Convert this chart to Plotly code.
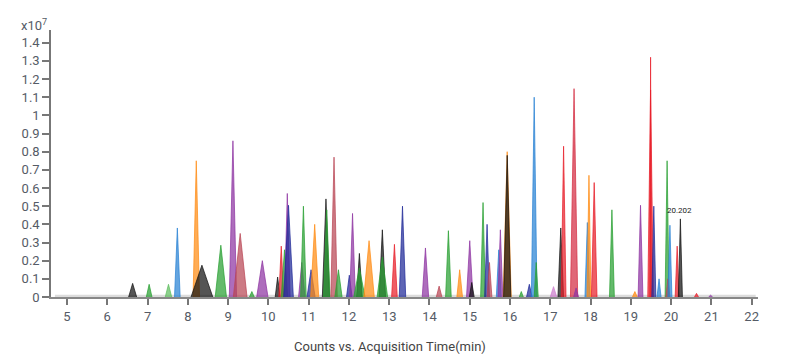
import plotly.graph_objects as go

# Peak table (heights in units of 10^7 counts)
peak_rt = [6.63, 7.04, 7.52, 7.74, 8.21, 8.35, 8.82, 9.12, 9.30, 9.59,
           9.85, 10.23, 10.32, 10.40, 10.47, 10.50, 10.83, 10.87, 11.06, 11.15,
           11.43, 11.45, 11.63, 11.74, 12.01, 12.09, 12.26, 12.26, 12.50, 12.83,
           12.83, 13.13, 13.33, 13.90, 14.24, 14.47, 14.75, 15.00, 15.05, 15.33,
           15.43, 15.49, 15.72, 15.76, 15.93, 15.93, 16.28, 16.48, 16.60, 16.65,
           17.08, 17.26, 17.33, 17.59, 17.64, 17.92, 17.96, 18.09, 18.53, 19.10,
           19.24, 19.49, 19.49, 19.57, 19.70, 19.90, 19.92, 19.97, 20.15, 20.23,
           20.63, 20.98]
peak_height = [0.075, 0.07, 0.07, 0.38, 0.75, 0.175, 0.285, 0.86, 0.35, 0.03,
               0.20, 0.11, 0.28, 0.26, 0.57, 0.505, 0.19, 0.50, 0.15, 0.40,
               0.54, 0.48, 0.77, 0.15, 0.12, 0.46, 0.24, 0.16, 0.31, 0.37,
               0.22, 0.29, 0.50, 0.27, 0.06, 0.365, 0.15, 0.31, 0.08, 0.52,
               0.40, 0.19, 0.26, 0.37, 0.80, 0.78, 0.03, 0.07, 1.10, 0.19,
               0.057, 0.38, 0.83, 1.147, 0.05, 0.41, 0.67, 0.63, 0.48, 0.03,
               0.505, 1.14, 1.32, 0.50, 0.10, 0.75, 0.10, 0.395, 0.28, 0.43,
               0.02, 0.01]
peak_halfwidth = [0.10, 0.07, 0.08, 0.07, 0.08, 0.27, 0.14, 0.09, 0.17, 0.06,
                  0.14, 0.06, 0.06, 0.08, 0.07, 0.12, 0.08, 0.07, 0.10, 0.10,
                  0.09, 0.08, 0.08, 0.09, 0.07, 0.07, 0.07, 0.14, 0.13, 0.08,
                  0.13, 0.07, 0.08, 0.08, 0.07, 0.07, 0.07, 0.08, 0.06, 0.06,
                  0.06, 0.06, 0.06, 0.06, 0.10, 0.09, 0.05, 0.07, 0.07, 0.05,
                  0.08, 0.07, 0.06, 0.09, 0.06, 0.06, 0.05, 0.07, 0.06, 0.06,
                  0.06, 0.07, 0.02, 0.05, 0.05, 0.05, 0.05, 0.05, 0.05, 0.05,
                  0.05, 0.05]
peak_color = ["black", "green", "lightgreen", "blue", "orange", "black", "green", "purple", "rose", "green",
              "purple", "black", "red", "green", "purple", "navy", "purple", "green", "navy", "orange",
              "black", "green", "rose", "green", "navy", "purple", "black", "green", "orange", "black",
              "green", "red", "navy", "purple", "rose", "green", "orange", "purple", "black", "green",
              "navy", "rose", "blue", "purple", "orange", "black", "green", "navy", "blue", "green",
              "pink", "black", "red", "crimson", "purple", "blue", "orange", "red", "green", "orange",
              "purple", "red", "red", "navy", "blue", "green", "rose", "blue", "red", "black",
              "red", "purple"]

x_ticks = list(range(5, 23))
y_ticks = [round(0.1 * i, 1) for i in range(15)]
y_tick_labels = ["0", "0.1", "0.2", "0.3", "0.4", "0.5", "0.6", "0.7", "0.8", "0.9",
                 "1", "1.1", "1.2", "1.3", "1.4"]
x_title = "Counts vs. Acquisition Time(min)"
label_rt = 20.202
label_height = 0.43

palette = {
    "blue": (40, 130, 212),
    "orange": (255, 140, 20),
    "green": (40, 160, 50),
    "lightgreen": (95, 190, 95),
    "red": (232, 30, 42),
    "purple": (142, 52, 162),
    "black": (20, 20, 20),
    "navy": (32, 42, 152),
    "rose": (185, 70, 85),
    "crimson": (212, 44, 66),
    "pink": (205, 125, 205),
}

fig = go.Figure()

for rt, h, w, c in zip(peak_rt, peak_height, peak_halfwidth, peak_color):
    r, g, b = palette[c]
    fig.add_trace(go.Scatter(
        x=[rt - w, rt, rt + w], y=[0, h, 0],
        mode="lines", fill="toself",
        fillcolor=f"rgba({r},{g},{b},0.72)",
        line=dict(color=f"rgba({r},{g},{b},0.9)", width=0.8),
        hoverinfo="skip", showlegend=False,
    ))

fig.add_annotation(x=label_rt, y=label_height, text=str(label_rt), showarrow=False,
                   xanchor="center", yanchor="bottom", yshift=2,
                   font=dict(size=8, color="#222", family="Roboto"))

fig.add_annotation(xref="paper", yref="paper", x=-0.045, y=1.0, text="x10<sup>7</sup>",
                   showarrow=False, xanchor="left", yanchor="bottom", yshift=-5,
                   font=dict(size=13, color="#555b66", family="Roboto"))

fig.add_annotation(xref="paper", yref="paper", x=0.48, y=-0.187, text=x_title,
                   showarrow=False, xanchor="center", yanchor="middle",
                   font=dict(size=13, color="#444", family="Roboto"))

fig.add_shape(type="line", xref="x", yref="y", x0=4.7, x1=22.1, y0=0.004, y1=0.004,
              line=dict(color="#dcdcdc", width=3), layer="below")

fig.update_layout(
    width=792, height=355,
    margin=dict(l=51, r=34, t=30, b=58),
    paper_bgcolor="white", plot_bgcolor="white",
    font=dict(family="Roboto", color="#555b66", size=13),
    xaxis=dict(
        range=[4.603, 22.157], tickvals=x_ticks, ticktext=[str(v) for v in x_ticks],
        showgrid=False, zeroline=False, showline=True, linecolor="#888", linewidth=2,
        ticks="outside", ticklen=6, tickcolor="#777", tickwidth=1.5, automargin=False,
        tickfont=dict(size=13, color="#555b66"),
    ),
    yaxis=dict(
        range=[0, 1.47], tickvals=y_ticks, ticktext=y_tick_labels,
        showgrid=False, zeroline=False, showline=True, linecolor="#777", linewidth=1.5,
        ticks="outside", ticklen=7, tickcolor="#777", tickwidth=1.5, automargin=False,
        tickfont=dict(size=13, color="#555b66"),
    ),
)

fig.write_html("out.html", config={"displayModeBar": False},
               post_script="document.body.style.margin='0';document.body.style.overflow='hidden';")
